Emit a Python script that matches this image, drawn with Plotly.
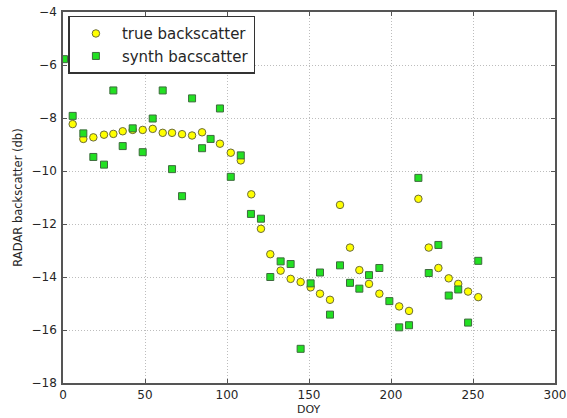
import plotly.graph_objects as go

# ---- data ----
doy_true = [5.9, 12.4, 18.5, 25.0, 30.7, 36.4, 42.5, 48.6, 54.7, 60.8, 66.5, 72.6, 78.7, 84.8,
            95.7, 102.3, 108.4, 114.8, 120.7, 126.4, 132.7, 138.8, 144.9, 151.0, 156.7, 162.8,
            168.9, 175.0, 180.7, 186.6, 192.9, 205.0, 211.0, 216.7, 223.0, 228.9, 235.2, 241.0,
            247.0, 253.2]
true_bs = [-8.23, -8.79, -8.73, -8.63, -8.60, -8.50, -8.45, -8.45, -8.41, -8.56, -8.56, -8.61, -8.66, -8.54,
           -8.97, -9.31, -9.60, -10.88, -12.18, -13.14, -13.76, -14.07, -14.19, -14.39, -14.63, -14.86,
           -11.28, -12.89, -13.74, -14.26, -14.63, -15.11, -15.28, -11.05, -12.89, -13.66, -14.05, -14.26,
           -14.55, -14.76]

doy_synth = [0.6, 5.9, 12.4, 18.5, 25.0, 30.7, 36.4, 42.5, 48.6, 54.7, 60.8, 66.5, 72.6, 78.7, 84.8,
             90.0, 95.7, 102.3, 108.4, 114.6, 120.7, 126.4, 132.7, 138.8, 144.9, 151.0, 156.7, 162.8,
             168.9, 175.0, 180.7, 186.6, 192.9, 199.0, 205.0, 211.0, 216.7, 223.0, 228.9, 235.2, 241.0,
             247.0, 253.2]
synth_bs = [-5.78, -7.92, -8.58, -9.47, -9.76, -6.96, -9.06, -8.39, -9.29, -8.02, -6.96, -9.93, -10.95, -7.26, -9.14,
            -8.79, -7.64, -10.22, -9.41, -11.62, -11.80, -14.00, -13.41, -13.51, -16.71, -14.24, -13.83, -15.42,
            -13.56, -14.22, -14.44, -13.93, -13.66, -14.91, -15.90, -15.82, -10.26, -13.85, -12.79, -14.70, -14.47,
            -15.72, -13.39]

x_ticks = [0, 50, 100, 150, 200, 250, 300]
y_ticks = [-18, -16, -14, -12, -10, -8, -6, -4]

font_family = "DejaVu Sans"
txt_color = "#262626"

fig = go.Figure()
fig.add_trace(go.Scatter(
    x=doy_true, y=true_bs, mode="markers", name="true backscatter",
    marker=dict(symbol="circle", size=7.5, color="#ffff00",
                line=dict(color="#6b6b3a", width=1)),
))
fig.add_trace(go.Scatter(
    x=doy_synth, y=synth_bs, mode="markers", name="synth bacscatter",
    marker=dict(symbol="square", size=7, color="#22e022",
                line=dict(color="#3d6b3d", width=1)),
))

axis_common = dict(
    showline=True, linecolor="#555555", linewidth=1.6, mirror="ticks",
    ticks="inside", ticklen=4, tickcolor="#555555", tickwidth=1,
    showgrid=True, gridcolor="#bdbdbd", gridwidth=1, griddash="1px,2px",
    zeroline=False, automargin=False,
    tickfont=dict(family=font_family, size=12, color=txt_color),
)

fig.update_layout(
    width=567, height=418,
    margin=dict(l=63, r=12, t=12, b=35),
    paper_bgcolor="white", plot_bgcolor="white",
    font=dict(family=font_family, color=txt_color),
    showlegend=True,
    legend=dict(
        x=0.011, y=0.99, xanchor="left", yanchor="top",
        bgcolor="white", bordercolor="#333333", borderwidth=1.5,
        font=dict(family=font_family, size=15, color=txt_color),
        tracegroupgap=0, itemwidth=42,
    ),
    xaxis=dict(
        range=[0, 300], tickvals=x_ticks,
        ticktext=[str(v) for v in x_ticks],
        ticklabelstandoff=0,
        **axis_common,
    ),
    yaxis=dict(
        range=[-18, -4], tickvals=y_ticks,
        ticktext=["\u2212" + str(abs(v)) for v in y_ticks],
        title=dict(text="RADAR backscatter (db)", font=dict(family=font_family, size=11.5, color=txt_color), standoff=6),
        ticklabelstandoff=2,
        **axis_common,
    ),
    annotations=[dict(
        text="DOY", xref="paper", yref="paper", x=0.5, y=-0.052,
        xanchor="center", yanchor="top", showarrow=False, borderpad=0,
        font=dict(family=font_family, size=11, color=txt_color),
    )],
)

fig.write_html("out.html")
